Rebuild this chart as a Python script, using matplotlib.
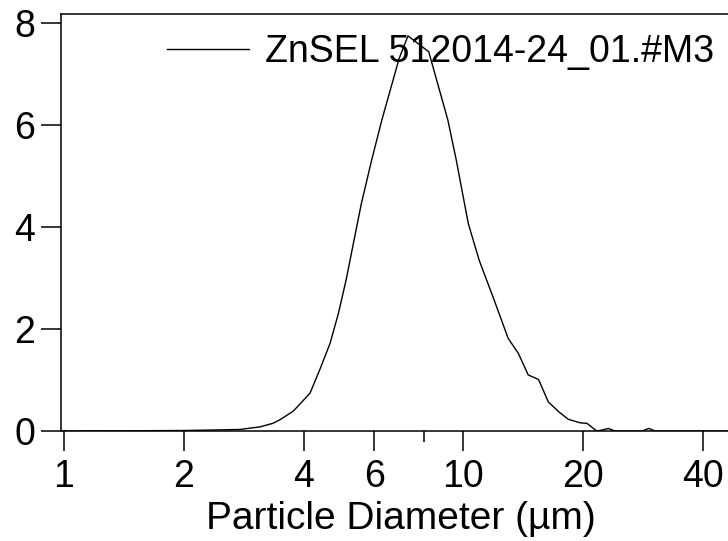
import matplotlib
matplotlib.use("Agg")
import matplotlib.pyplot as plt
from matplotlib.ticker import FixedLocator, FixedFormatter

# Particle size distribution
diameter = [0.97, 1.5, 2.0, 2.4, 2.76, 3.1, 3.34, 3.48, 3.76, 4.14, 4.38, 4.65, 4.88, 5.10,
            5.32, 5.57, 5.91, 6.27, 6.93, 7.29, 8.22, 9.18, 9.64, 9.84, 10.33, 11.0, 11.98,
            13.0, 13.8, 14.6, 15.5, 16.4, 17.4, 18.4, 19.7, 20.5, 21.7, 22.4, 23.2, 24.1,
            28.2, 29.3, 30.4, 50.0]
volume = [0.0, 0.005, 0.01, 0.02, 0.03, 0.08, 0.15, 0.22, 0.39, 0.74, 1.2, 1.72, 2.31, 2.96,
          3.68, 4.46, 5.31, 6.10, 7.31, 7.75, 7.44, 6.10, 5.31, 4.94, 4.07, 3.35, 2.58,
          1.82, 1.52, 1.10, 1.01, 0.57, 0.38, 0.23, 0.16, 0.15, 0.0, 0.02, 0.05, 0.0,
          0.0, 0.05, 0.0, 0.0]
series_name = "ZnSEL 512014-24_01.#M3"

x_ticks = [1, 2, 4, 6, 10, 20, 40]
x_tick_labels = ["1", "2", "4", "6", "10", "20", "40"]
y_ticks = [0, 2, 4, 6, 8]

plt.rcParams["font.family"] = ["Liberation Sans", "DejaVu Sans"]
plt.rcParams["font.size"] = 27

fig = plt.figure(figsize=(7.28, 5.41), dpi=100)
# axes runs slightly past the right edge of the picture, like the original crop
ax = fig.add_axes([61 / 728, 1 - 431 / 541, 680 / 728, (431 - 13.5) / 541])

ax.plot(diameter, volume, color="black", lw=1.0, label=series_name)

ax.set_xscale("log")
ax.set_xlim(0.983, 49.9)
ax.set_ylim(0, 8.19)

ax.xaxis.set_major_locator(FixedLocator(x_ticks))
ax.xaxis.set_major_formatter(FixedFormatter(x_tick_labels))
ax.xaxis.set_minor_locator(FixedLocator([8]))
ax.xaxis.set_minor_formatter(FixedFormatter([""]))
ax.set_yticks(y_ticks)

ax.tick_params(axis="both", which="major", direction="out", length=14.5, width=1.1, colors="black")
ax.tick_params(axis="x", which="major", pad=6)
ax.tick_params(axis="y", which="major", pad=4)
ax.tick_params(axis="x", which="minor", direction="out", length=8, width=1.1)

for side in ["left", "bottom", "top"]:
    ax.spines[side].set_linewidth(1.1)
ax.spines["right"].set_visible(False)

ax.set_xlabel("Particle Diameter (µm)", fontsize=28, labelpad=4)

ax.legend(loc="upper left", bbox_to_anchor=(0.125, 1.0), frameon=False,
          handlelength=2.2, handletextpad=0.42, borderaxespad=0.15)

plt.savefig("out.png", dpi=100)
